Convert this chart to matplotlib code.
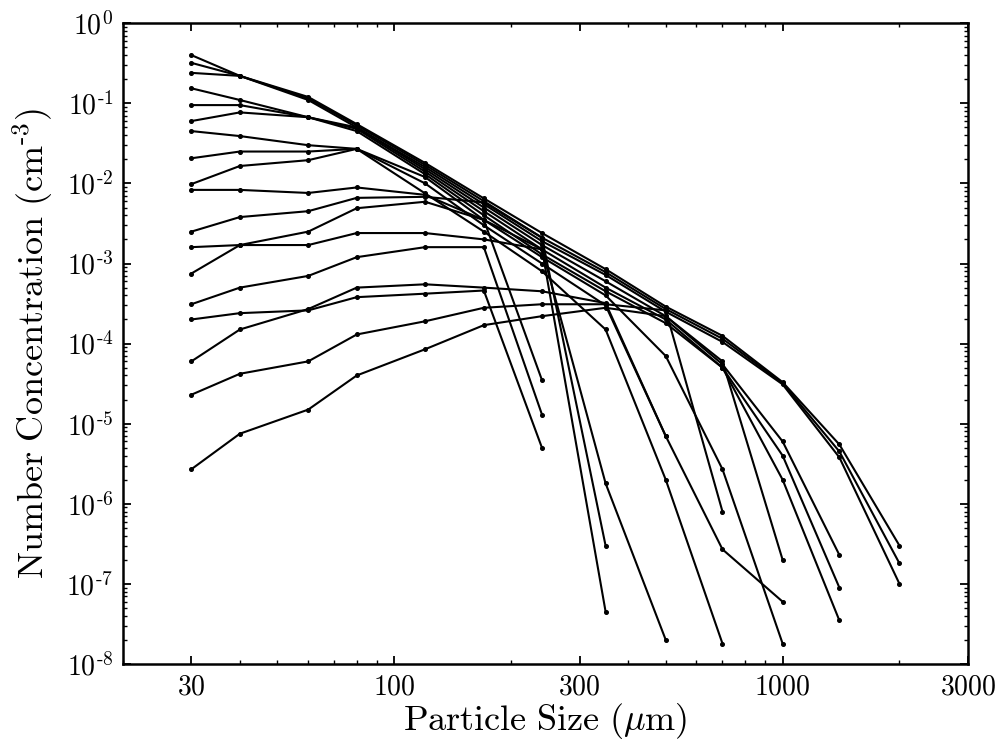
import numpy as np
import matplotlib
matplotlib.use('Agg')
import matplotlib.pyplot as plt
from matplotlib.ticker import LogLocator, NullFormatter, FixedLocator, FixedFormatter

plt.rcParams['mathtext.fontset'] = 'cm'
plt.rcParams['font.family'] = 'serif'
plt.rcParams['font.serif'] = ['DejaVu Serif']

# particle size bins (um)
sizes = [30, 40, 60, 80, 120, 170, 240, 350, 500, 700, 1000, 1400, 2000]

# number concentration (cm^-3), each series starts at 30 um
series = [
    [0.40, 0.22, 0.12, 0.055, 0.018, 0.0065, 0.0024, 8.5e-4, 2.9e-4, 1.25e-4, 3.3e-5, 5.5e-6, 3e-7],
    [0.32, 0.22, 0.115, 0.053, 0.017, 0.006, 0.0021, 7.8e-4, 2.7e-4, 1.15e-4, 3.2e-5, 4.5e-6, 1.8e-7],
    [0.24, 0.22, 0.11, 0.05, 0.016, 0.0055, 0.0019, 7.2e-4, 2.5e-4, 1.05e-4, 3.1e-5, 3.8e-6, 1.0e-7],
    [0.154, 0.11, 0.067, 0.05, 0.015, 0.005, 0.0017, 6e-4, 2.2e-4, 5.5e-5, 6e-6, 2.3e-7],
    [0.095, 0.095, 0.067, 0.048, 0.014, 0.0045, 0.0015, 5e-4, 2e-4, 5e-5, 4e-6, 9e-8],
    [0.060, 0.077, 0.067, 0.045, 0.013, 0.004, 0.0013, 4.5e-4, 1.8e-4, 5e-5, 2e-6, 3.5e-8],
    [0.045, 0.039, 0.030, 0.027, 0.012, 0.0035, 0.0012, 4e-4, 7e-5, 2.7e-6, 1.8e-8],
    [0.0206, 0.025, 0.025, 0.027, 0.01, 0.003, 0.001, 3e-4, 7e-6, 2.7e-7, 6e-8],
    [0.0098, 0.0165, 0.0195, 0.027, 0.0075, 0.0025, 0.0008, 1.5e-4, 2e-6, 1.8e-8],
    [0.0083, 0.0083, 0.0076, 0.0089, 0.0072, 0.0035, 0.0015, 1.8e-6, 2e-8],
    [0.0025, 0.0038, 0.0045, 0.0066, 0.0068, 0.0058, 0.0021, 3e-7],
    [0.0016, 0.0017, 0.0017, 0.0024, 0.0024, 0.002, 0.0015, 4.5e-8],
    [0.00075, 0.0017, 0.0025, 0.0049, 0.0059, 0.0035, 3.5e-5],
    [0.00031, 0.0005, 0.0007, 0.0012, 0.0016, 0.0016, 1.3e-5],
    [0.0002, 0.00024, 0.00026, 0.00038, 0.00042, 0.00046, 5e-6],
    [0.00006, 0.00015, 0.00027, 0.0005, 0.00055, 0.0005, 0.00045, 0.00032, 7e-6],
    [0.000023, 0.000042, 0.00006, 0.00013, 0.00019, 0.00028, 0.00031, 0.00031, 0.00026, 8e-7],
    [0.0000027, 0.0000075, 0.000015, 0.00004, 0.000085, 0.00017, 0.00022, 0.00028, 0.00022, 0.00006, 2e-7],
]

x_ticks = [30, 100, 300, 1000, 3000]
x_tick_labels = ['30', '100', '300', '1000', '3000']
y_exponents = [0, -1, -2, -3, -4, -5, -6, -7, -8]

fig = plt.figure(figsize=(10.04, 7.49), dpi=100)
ax = fig.add_axes([0.1225, 0.1135, 0.8415, 0.8555])

for vals in series:
    ax.plot(sizes[:len(vals)], vals, color='black', linewidth=1.5,
            marker='o', markersize=2.6)

ax.set_xscale('log')
ax.set_yscale('log')
ax.set_xlim(20, 3000)
ax.set_ylim(1e-8, 1)

ax.xaxis.set_major_locator(FixedLocator(x_ticks))
ax.xaxis.set_major_formatter(FixedFormatter([r'$\mathrm{%s}$' % t for t in x_tick_labels]))
ax.xaxis.set_minor_locator(LogLocator(base=10, subs=np.arange(2, 10)))
ax.xaxis.set_minor_formatter(NullFormatter())

y_labels = []
for e in y_exponents:
    if e < 0:
        y_labels.append(r'$\mathrm{10}^{\text{-}%d}$' % (-e))
    else:
        y_labels.append(r'$\mathrm{10}^{%d}$' % e)
ax.yaxis.set_major_locator(FixedLocator([10.0 ** e for e in y_exponents]))
ax.yaxis.set_major_formatter(FixedFormatter(y_labels))
ax.yaxis.set_minor_locator(LogLocator(base=10, subs=np.arange(2, 10), numticks=20))
ax.yaxis.set_minor_formatter(NullFormatter())

ax.tick_params(which='both', direction='in', top=True, right=True, labelsize=20)
ax.tick_params(which='major', length=6, width=1.3, pad=7)
ax.tick_params(which='minor', length=3, width=1.0)
for s in ax.spines.values():
    s.set_linewidth(1.8)

ax.set_xlabel(r'$\mathrm{Particle\ Size\ (\mu m)}$', fontsize=26, labelpad=0)
ax.set_ylabel(r'$\mathrm{Number\ Concentration\ (cm}^{\text{-}3}\mathrm{)}$', fontsize=26, labelpad=8)

fig.savefig('out.png', dpi=100)
